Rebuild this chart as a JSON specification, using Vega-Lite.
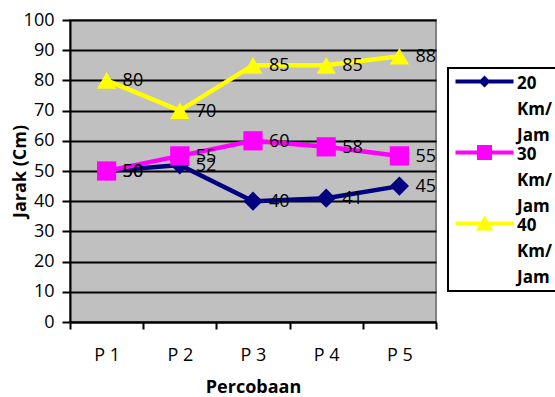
{
  "$schema": "https://vega.github.io/schema/vega-lite/v6.json",
  "width": 366,
  "height": 302,
  "autosize": "none",
  "padding": {"left": 70, "top": 20, "right": 119, "bottom": 75},
  "background": "white",
  "config": {
    "font": "Open Sans",
    "view": {"fill": "#C0C0C0", "stroke": "#808080", "strokeWidth": 2}
  },
  "data": {
    "values": [
      {"trial": "P 1", "series": "20 Km/Jam", "value": 50},
      {"trial": "P 2", "series": "20 Km/Jam", "value": 52},
      {"trial": "P 3", "series": "20 Km/Jam", "value": 40},
      {"trial": "P 4", "series": "20 Km/Jam", "value": 41},
      {"trial": "P 5", "series": "20 Km/Jam", "value": 45},
      {"trial": "P 1", "series": "30 Km/Jam", "value": 50},
      {"trial": "P 2", "series": "30 Km/Jam", "value": 55},
      {"trial": "P 3", "series": "30 Km/Jam", "value": 60},
      {"trial": "P 4", "series": "30 Km/Jam", "value": 58},
      {"trial": "P 5", "series": "30 Km/Jam", "value": 55},
      {"trial": "P 1", "series": "40 Km/Jam", "value": 80},
      {"trial": "P 2", "series": "40 Km/Jam", "value": 70},
      {"trial": "P 3", "series": "40 Km/Jam", "value": 85},
      {"trial": "P 4", "series": "40 Km/Jam", "value": 85},
      {"trial": "P 5", "series": "40 Km/Jam", "value": 88}
    ]
  },
  "encoding": {
    "x": {
      "field": "trial",
      "type": "nominal",
      "sort": ["P 1", "P 2", "P 3", "P 4", "P 5"],
      "scale": {"type": "band", "paddingInner": 0, "paddingOuter": 0},
      "axis": {
        "title": "Percobaan",
        "titleFontSize": 18,
        "titleFontWeight": "bold",
        "titleColor": "black",
        "titlePadding": 14,
        "labelAngle": 0,
        "labelFontSize": 18,
        "labelColor": "black",
        "labelPadding": 17,
        "tickBand": "extent",
        "tickColor": "black",
        "tickWidth": 2,
        "tickSize": 7,
        "domainColor": "black",
        "domainWidth": 2,
        "grid": false
      }
    },
    "y": {
      "field": "value",
      "type": "quantitative",
      "scale": {"domain": [0, 100], "nice": false},
      "axis": {
        "title": "Jarak (Cm)",
        "titleFontSize": 18,
        "titleFontWeight": "bold",
        "titleColor": "black",
        "titlePadding": -6,
        "values": [0, 10, 20, 30, 40, 50, 60, 70, 80, 90, 100],
        "labelFontSize": 18,
        "labelColor": "black",
        "labelPadding": 8,
        "tickColor": "black",
        "tickWidth": 2,
        "tickSize": 8,
        "domainColor": "black",
        "domainWidth": 2,
        "grid": true,
        "gridColor": "black",
        "gridWidth": 2,
        "gridOpacity": 1
      }
    }
  },
  "layer": [
    {
      "mark": {"type": "line", "strokeWidth": 4.5},
      "encoding": {
        "color": {
          "field": "series",
          "type": "nominal",
          "scale": {"domain": ["20 Km/Jam", "30 Km/Jam", "40 Km/Jam"], "range": ["#000080", "#FF00FF", "#FFFF00"]},
          "legend": null
        }
      }
    },
    {
      "mark": {"type": "point", "filled": true, "size": 370, "opacity": 1},
      "encoding": {
        "color": {"field": "series", "type": "nominal", "legend": null},
        "shape": {
          "field": "series",
          "type": "nominal",
          "scale": {"domain": ["20 Km/Jam", "30 Km/Jam", "40 Km/Jam"], "range": ["diamond", "square", "triangle-up"]},
          "legend": null
        }
      }
    },
    {
      "mark": {"type": "text", "align": "left", "baseline": "middle", "dx": 16, "dy": 1, "fontSize": 18, "color": "black"},
      "encoding": {"text": {"field": "value", "type": "quantitative"}}
    },
    {
      "mark": {"type": "point", "filled": true, "size": 256, "opacity": 0},
      "encoding": {
        "shape": {
          "field": "series",
          "type": "nominal",
          "scale": {
            "domain": ["20 Km/Jam", "30 Km/Jam", "40 Km/Jam"],
            "range": [
              "M-3.625,-0.25H3.625V0.25H-3.625ZM0,-0.75L0.75,0L0,0.75L-0.75,0Z",
              "M-3.625,-0.25H3.625V0.25H-3.625ZM-0.94,-0.94H0.94V0.94H-0.94Z",
              "M-3.625,-0.25H3.625V0.25H-3.625ZM0,-1L1.09,0.875H-1.09Z"
            ]
          },
          "legend": {
            "title": null,
            "orient": "none",
            "legendX": 378,
            "legendY": 48,
            "padding": 5,
            "strokeColor": "black",
            "symbolSize": 256,
            "symbolOffset": 23,
            "labelFontSize": 17,
            "labelFontWeight": "bold",
            "labelColor": "black",
            "labelOffset": 24,
            "labelBaseline": "top",
            "labelExpr": "split(replace(datum.label, '/', '/ '), ' ')",
            "rowPadding": 0,
            "encoding": {
              "legend": {"strokeWidth": {"value": 2}},
              "symbols": {"size": {"value": 256}, "opacity": {"value": 1}, "fill": {"value": {"expr": "scale('color', datum.value)"}}, "strokeWidth": {"value": 0}},
              "labels": {"lineHeight": {"value": 26}, "dy": {"value": -6}}
            }
          }
        }
      }
    }
  ],
  "resolve": {"scale": {"shape": "independent"}}
}
